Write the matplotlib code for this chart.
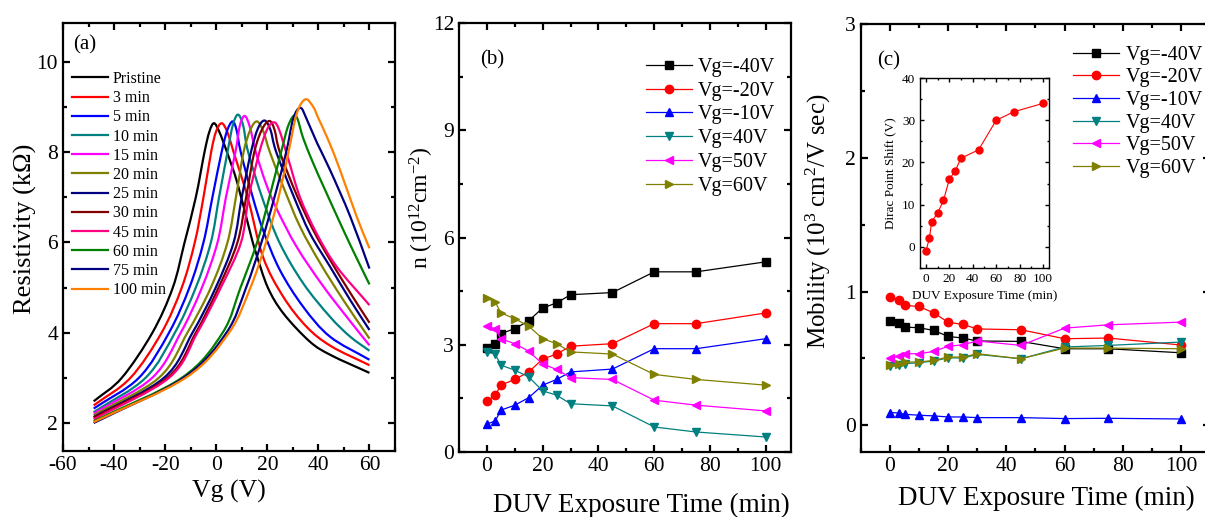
import numpy as np
import matplotlib
matplotlib.use("Agg")
from matplotlib import pyplot as plt
from matplotlib.ticker import MultipleLocator
from matplotlib.path import Path
from matplotlib.patches import PathPatch

plt.rcParams['font.family'] = ['Liberation Serif', 'DejaVu Serif']
plt.rcParams['mathtext.fontset'] = 'custom'
plt.rcParams['mathtext.rm'] = 'Liberation Serif'
plt.rcParams['mathtext.it'] = 'Liberation Serif:italic'
plt.rcParams['axes.unicode_minus'] = False

#%% (a) resistivity vs gate voltage, one curve per exposure time

labels_a = ['Pristine', '3 min', '5 min', '10 min', '15 min', '20 min', '25 min',
            '30 min', '45 min', '60 min', '75 min', '100 min']
colors_a = ['#000000', '#ff0000', '#0000ff', '#008080', '#ff00ff', '#808000',
            '#000080', '#800000', '#ff0080', '#008000', '#000080', '#ff8000']

vg_00 = [-48, -37, -25, -17, -12.4, -8, -4.6, -2.7, -0.9, 1.2, 4.2, 8.3, 13.6, 15.6, 20.2, 26.4, 36.7, 45, 60]
rho_00 = [2.48, 3.0, 4.0, 5.0, 6.0, 7.0, 8.0, 8.45, 8.64, 8.45, 8.0, 7.31, 6.15, 5.76, 5.0, 4.42, 3.8, 3.5, 3.11]
vg_03 = [-48, -33.6, -21.4, -13.5, -8.4, -5.0, -2.0, -0.1, 2.1, 4.3, 6.8, 12.3, 18.3, 26.2, 35.4, 45, 60]
rho_03 = [2.39, 3.0, 4.0, 5.0, 6.0, 7.0, 8.0, 8.45, 8.64, 8.45, 8.0, 7.0, 5.68, 4.8, 4.13, 3.7, 3.28]
vg_05 = [-48, -30.3, -18.5, -10.5, -5.0, -1.5, 2.1, 4.3, 6.4, 8.0, 9.6, 14.3, 18.3, 24.9, 34.1, 44.6, 60]
rho_05 = [2.32, 3.0, 4.0, 5.0, 6.0, 7.0, 8.0, 8.48, 8.68, 8.48, 8.0, 7.0, 6.28, 5.39, 4.57, 3.91, 3.40]
vg_10 = [-48, -27.7, -16.2, -8.0, -2.1, 1.1, 4.4, 6.5, 8.5, 10.5, 12.5, 18.3, 24.9, 34.1, 44.6, 52.5, 60]
rho_10 = [2.24, 3.0, 4.0, 5.0, 6.0, 7.0, 8.0, 8.6, 8.83, 8.6, 8.0, 6.94, 5.98, 5.09, 4.35, 3.91, 3.60]
vg_15 = [-48, -25.1, -13.9, -5.6, 0.5, 3.8, 7.5, 9.3, 11.2, 13.2, 15.5, 19.5, 23.6, 31.5, 42, 52.5, 60]
rho_15 = [2.21, 3.0, 4.0, 5.0, 6.0, 7.0, 8.0, 8.6, 8.8, 8.55, 8.0, 7.3, 6.75, 5.9, 5.02, 4.25, 3.72]
vg_20 = [-48, -22.5, -11.3, -2.1, 4.4, 7.7, 10.7, 13.4, 16, 18.5, 21, 26.2, 32.8, 40.7, 49.8, 60]
rho_20 = [2.17, 3.0, 4.0, 5.0, 6.0, 7.0, 8.0, 8.5, 8.68, 8.45, 8.0, 7.24, 6.35, 5.54, 4.72, 3.87]
vg_25 = [-48, -20.5, -9.3, -0.2, 6.8, 10, 13.6, 16.3, 18.9, 21.2, 23.5, 30.4, 36.7, 44.6, 52.5, 60]
rho_25 = [2.13, 3.0, 4.0, 5.0, 6.0, 7.0, 8.0, 8.52, 8.7, 8.5, 8.0, 7.01, 6.2, 5.46, 4.72, 4.06]
vg_30 = [-48, -19.2, -8.0, 0.9, 8.3, 11.7, 14.9, 17.9, 20.8, 22.8, 24.9, 31.5, 38, 44.6, 52.5, 60]
rho_30 = [2.12, 3.0, 4.0, 5.0, 6.0, 7.0, 8.0, 8.5, 8.69, 8.5, 8.0, 7.05, 6.27, 5.61, 4.88, 4.22]
vg_45 = [-48, -18.5, -7.4, 1.8, 9.7, 12.7, 16.9, 19.9, 22.5, 24.6, 28.2, 32.8, 39.3, 47.2, 60]
rho_45 = [2.08, 3.0, 4.0, 5.0, 6.0, 7.0, 8.0, 8.5, 8.66, 8.5, 7.85, 7.0, 6.2, 5.46, 4.61]
vg_60 = [-48, -13.5, 2.5, 9.5, 16, 20.8, 25.4, 28.3, 31.2, 34.1, 38, 42, 49.8, 55, 60]
rho_60 = [2.04, 3.0, 4.0, 5.0, 6.0, 7.0, 8.0, 8.6, 8.8, 8.3, 7.75, 7.24, 6.27, 5.65, 5.07]
vg_75 = [-48, -12.8, 4, 11.7, 17.7, 22.8, 27.4, 30.2, 33, 35.5, 39.5, 44.6, 52.5, 60]
rho_75 = [2.00, 3.0, 4.0, 5.0, 6.0, 7.0, 8.0, 8.75, 8.98, 8.72, 8.2, 7.6, 6.57, 5.42]
vg_100 = [-48, -12, 5, 13.4, 19.5, 24.4, 28.3, 31.5, 34.9, 38, 40, 44, 48.5, 55, 60]
rho_100 = [2.02, 3.0, 4.0, 5.0, 6.0, 7.0, 8.0, 8.85, 9.17, 9.0, 8.75, 8.25, 7.6, 6.57, 5.87]

vg_curves = [vg_00, vg_03, vg_05, vg_10, vg_15, vg_20, vg_25, vg_30, vg_45, vg_60, vg_75, vg_100]
rho_curves = [rho_00, rho_03, rho_05, rho_10, rho_15, rho_20, rho_25, rho_30, rho_45, rho_60, rho_75, rho_100]

#%% (b) carrier density and (c) mobility vs DUV exposure time

t_min = [0, 3, 5, 10, 15, 20, 25, 30, 45, 60, 75, 100]
labels_bc = ['Vg=-40V', 'Vg=-20V', 'Vg=-10V', 'Vg=40V', 'Vg=50V', 'Vg=60V']
colors_bc = ['#000000', '#ff0000', '#0000ff', '#008080', '#ff00ff', '#808000']
markers_bc = ['s', 'o', '^', 'v', '<', '>']

n_m40 = [2.91, 3.03, 3.31, 3.45, 3.67, 4.03, 4.17, 4.40, 4.46, 5.04, 5.04, 5.32]
n_m20 = [1.42, 1.59, 1.87, 2.03, 2.24, 2.60, 2.74, 2.96, 3.03, 3.59, 3.59, 3.89]
n_m10 = [0.78, 0.87, 1.17, 1.31, 1.52, 1.87, 2.03, 2.24, 2.32, 2.89, 2.89, 3.17]
n_p40 = [2.80, 2.74, 2.43, 2.29, 2.10, 1.71, 1.59, 1.35, 1.29, 0.70, 0.56, 0.42]
n_p50 = [3.52, 3.45, 3.17, 3.03, 2.82, 2.46, 2.31, 2.08, 2.03, 1.45, 1.31, 1.15]
n_p60 = [4.30, 4.20, 3.89, 3.73, 3.52, 3.17, 3.03, 2.80, 2.74, 2.17, 2.03, 1.87]

mu_m40 = [0.776, 0.766, 0.734, 0.729, 0.709, 0.664, 0.652, 0.630, 0.627, 0.572, 0.572, 0.542]
mu_m20 = [0.958, 0.940, 0.896, 0.888, 0.840, 0.770, 0.754, 0.720, 0.714, 0.647, 0.652, 0.600]
mu_m10 = [0.095, 0.092, 0.082, 0.075, 0.070, 0.062, 0.062, 0.057, 0.057, 0.050, 0.052, 0.047]
mu_p40 = [0.440, 0.448, 0.460, 0.468, 0.480, 0.505, 0.502, 0.530, 0.497, 0.585, 0.597, 0.622]
mu_p50 = [0.505, 0.515, 0.535, 0.535, 0.552, 0.590, 0.602, 0.630, 0.597, 0.726, 0.751, 0.771]
mu_p60 = [0.448, 0.460, 0.473, 0.473, 0.485, 0.510, 0.510, 0.535, 0.497, 0.577, 0.577, 0.572]

dirac_shift = [-1, 2, 6, 8, 11, 16, 18, 21, 23, 30, 32, 34]

n_series = [n_m40, n_m20, n_m10, n_p40, n_p50, n_p60]
mu_series = [mu_m40, mu_m20, mu_m10, mu_p40, mu_p50, mu_p60]

#%% Helpers

def spline_path(x, y):
    # smooth connection (Catmull-Rom as cubic Bezier) through the measured points
    p = np.column_stack([x, y]).astype(float)
    q = np.vstack([2*p[0] - p[1], p, 2*p[-1] - p[-2]])
    verts = [p[0]]
    codes = [Path.MOVETO]
    for i in range(1, len(q) - 2):
        c1 = q[i] + (q[i+1] - q[i-1])/6
        c2 = q[i+1] - (q[i+2] - q[i])/6
        verts += [c1, c2, q[i+1]]
        codes += [Path.CURVE4]*3
    return Path(verts, codes)

def style_axes(ax, xmaj, xmin, ymaj, ymin, lab=15.5, width=1.6):
    ax.xaxis.set_major_locator(MultipleLocator(xmaj))
    ax.xaxis.set_minor_locator(MultipleLocator(xmin))
    ax.yaxis.set_major_locator(MultipleLocator(ymaj))
    ax.yaxis.set_minor_locator(MultipleLocator(ymin))
    ax.tick_params(which='both', direction='in', top=True, right=True, width=width, labelsize=lab)
    ax.tick_params(which='major', length=5)
    ax.tick_params(which='minor', length=3)
    for s in ax.spines.values():
        s.set_linewidth(width)

#%% Figure

fig = plt.figure(figsize=(12.05, 5.17), dpi=100)

ax1 = fig.add_axes([0.0523, 0.1277, 0.2755, 0.8278])
for vg, rho, c, lab in zip(vg_curves, rho_curves, colors_a, labels_a):
    ax1.add_patch(PathPatch(spline_path(vg, rho), fill=False, edgecolor=c, lw=1.6))
    ax1.plot([], [], color=c, lw=1.6, label=lab)
ax1.set_xlim(-60, 70)
ax1.set_ylim(1.38, 10.86)
style_axes(ax1, 20, 10, 2, 1)
ax1.set_xlabel('Vg (V)', fontsize=18.5)
ax1.set_ylabel('Resistivity (k\u03a9)', fontsize=19)
ax1.yaxis.set_label_coords(-0.078, 0.52)
ax1.text(0.03, 0.948, '(a)', transform=ax1.transAxes, fontsize=15, va='center')
ax1.legend(loc='upper left', bbox_to_anchor=(0.0598, 0.8627), bbox_transform=fig.transFigure,
           frameon=False, fontsize=11.5, handlelength=2.25, handletextpad=0.3,
           labelspacing=0.2, borderpad=0, borderaxespad=0)

ax2 = fig.add_axes([0.3809, 0.1257, 0.2755, 0.8298])
for y, c, m, lab in zip(n_series, colors_bc, markers_bc, labels_bc):
    ax2.plot(t_min, y, color=c, marker=m, ms=6, lw=0.9, label=lab)
ax2.set_xlim(-10, 109)
ax2.set_ylim(0, 12)
style_axes(ax2, 20, 10, 3, 1.5)
ax2.set_xlabel('DUV Exposure Time (min)', fontsize=19.5)
ax2.xaxis.set_label_coords(0.55, -0.095)
ax2.set_ylabel('n (10$^{12}$cm$^{-2}$)', fontsize=17)
ax2.yaxis.set_label_coords(-0.07, 0.57)
ax2.text(0.063, 0.914, '(b)', transform=ax2.transAxes, fontsize=15, va='center')
ax2.legend(loc='upper left', bbox_to_anchor=(0.536, 0.888), bbox_transform=fig.transFigure,
           frameon=False, fontsize=14.5, numpoints=1, handlelength=2.3, handletextpad=0.3,
           labelspacing=0.23, borderpad=0, borderaxespad=0)

ax3 = fig.add_axes([0.7145, 0.1257, 0.2896, 0.8279])
for y, c, m, lab in zip(mu_series, colors_bc, markers_bc, labels_bc):
    ax3.plot(t_min, y, color=c, marker=m, ms=6, lw=0.9, label=lab)
ax3.set_xlim(-10, 110)
ax3.set_ylim(-0.2, 3)
style_axes(ax3, 20, 10, 1, 0.5)
ax3.set_xlabel('DUV Exposure Time (min)', fontsize=19.5)
ax3.xaxis.set_label_coords(0.53, -0.08)
ax3.set_ylabel('Mobility (10$^3$ cm$^2$/V sec)', fontsize=18)
ax3.yaxis.set_label_coords(-0.08, 0.54)
ax3.text(0.046, 0.914, '(c)', transform=ax3.transAxes, fontsize=15, va='center')
ax3.legend(loc='upper left', bbox_to_anchor=(0.8905, 0.912), bbox_transform=fig.transFigure,
           frameon=False, fontsize=14.5, numpoints=1, handlelength=2.3, handletextpad=0.3,
           labelspacing=0.18, borderpad=0, borderaxespad=0)

# inset: Dirac point shift
ax4 = fig.add_axes([0.7635, 0.4816, 0.107, 0.3675])
ax4.plot(t_min, dirac_shift, color='#ff0000', marker='o', ms=5, lw=0.8)
ax4.set_xlim(-5, 105)
ax4.set_ylim(-5, 40)
style_axes(ax4, 20, 10, 10, 5, lab=9.5, width=1.0)
ax4.tick_params(which='major', length=3)
ax4.tick_params(which='minor', length=1.5)
ax4.set_xlabel('DUV Exposure Time (min)', fontsize=9.5)
ax4.set_ylabel('Dirac Point Shift (V)', fontsize=9.5)

fig.savefig('out.png', dpi=100)
